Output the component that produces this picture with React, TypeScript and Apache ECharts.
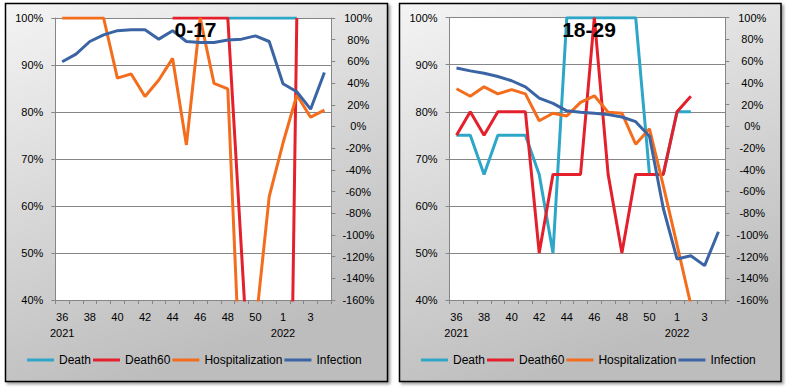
import React, { useEffect, useRef } from 'react';
import * as echarts from 'echarts';

const weeks = ['36', '37', '38', '39', '40', '41', '42', '43', '44', '45', '46', '47', '48', '49', '50', '51', '1', '2', '3', '4'];
const yearLabels: Record<number, string> = { 0: '2021', 16: '2022' };
const seriesNames = ['Death', 'Death60', 'Hospitalization', 'Infection'];
const seriesColors = ['#2ea6c8', '#e3202b', '#f36d1d', '#3b64a5'];
const panelTitles = ['0-17', '18-29'];

// Panel 0-17
const death017 = [null, null, null, null, null, null, null, null, null, null, null, null, 100, 100, 100, 100, 100, 100, null, null];
const death60017 = [null, null, null, null, null, null, null, null, 100, 100, 100, 100, 100, 50, 0, -60, -107, 100, null, null];
const hosp017 = [100, 100, 100, 100, 87.2, 88.1, 83.3, 86.8, 91.4, 73.0, 100, 86.1, 84.9, 16, 34, 62, 73.4, 83.6, 78.9, 80.4];
const infection017 = [90.7, 92.3, 95.0, 96.4, 97.3, 97.5, 97.5, 95.5, 97.3, 95.0, 94.8, 94.8, 95.3, 95.5, 96.2, 95.0, 86.0, 84.3, 80.6, 88.4];

// Panel 18-29
const death1829 = [75, 75, 66.7, 75, 75, 75, 66.7, 50, 100, 100, 100, 100, 100, 100, 66.7, 66.7, 80, 80, null, null];
const death601829 = [75, 80, 75, 80, 80, 80, 50, 66.7, 66.7, 66.7, 100, 66.7, 50, 66.7, 66.7, 66.7, 80, 83.3, null, null];
const hosp1829 = [84.9, 83.3, 85.3, 83.8, 84.7, 83.8, 78.1, 79.7, 79.1, 82.0, 83.4, 79.9, 79.7, 73.1, 76.4, 64.3, 51.7, 39, null, null];
const infection1829 = [89.3, 88.7, 88.2, 87.5, 86.6, 85.3, 82.9, 81.8, 80.2, 79.9, 79.7, 79.4, 78.9, 77.9, 74.8, 59.5, 48.7, 49.4, 47.3, 54.5];

const leftAxisRange = { min: 40, max: 100, interval: 10 };
const rightAxisRange = { min: -160, max: 100, interval: 20 };

const panelData = [
  [death017, death60017, hosp017, infection017],
  [death1829, death601829, hosp1829, infection1829],
];

const FONT = '"Liberation Sans", Arial, sans-serif';
const AXIS_COLOR = '#868686';

export default function App() {
  const ref = useRef<HTMLDivElement>(null);

  useEffect(() => {
    if (!ref.current) return;
    const chart = echarts.init(ref.current, undefined, { renderer: 'svg' });

    const grids = [
      { left: 55.3, top: 18, width: 276, height: 282 },
      { left: 449.6, top: 17.7, width: 275.7, height: 282.3 },
    ];
    const panels = [
      { x: 5.5, y: 3.5, w: 382, h: 378, titleX: 195.5, legendLeft: 27 },
      { x: 399.5, y: 3.5, w: 381.5, h: 378, titleX: 589, legendLeft: 421 },
    ];

    const xAxis: any[] = [];
    const yAxis: any[] = [];
    const series: any[] = [];
    const legend: any[] = [];
    const graphic: any[] = [];

    panels.forEach((p, i) => {
      graphic.push({
        type: 'rect',
        z: -10,
        silent: true,
        shape: { x: p.x, y: p.y, width: p.w, height: p.h },
        style: {
          fill: new echarts.graphic.LinearGradient(0, 0, 0.35, 1, [
            { offset: 0, color: '#f4f4f4' },
            { offset: 1, color: '#bdbdbd' },
          ]),
          stroke: '#000',
          lineWidth: 1.5,
          shadowBlur: 3,
          shadowOffsetX: 2,
          shadowOffsetY: 2,
          shadowColor: 'rgba(0,0,0,0.4)',
        },
      });
      graphic.push({
        type: 'text',
        z: 20,
        x: p.titleX,
        y: 29,
        style: {
          text: panelTitles[i],
          font: `bold 21px ${FONT}`,
          fill: '#000',
          align: 'center',
          verticalAlign: 'middle',
        },
      });

      xAxis.push({
        type: 'category',
        gridIndex: i,
        data: weeks,
        boundaryGap: true,
        axisLine: { show: true, onZero: false, lineStyle: { color: AXIS_COLOR, width: 1 } },
        axisTick: { show: true, interval: 0, length: 4, lineStyle: { color: AXIS_COLOR } },
        axisLabel: {
          interval: 1,
          margin: 9,
          fontSize: 11,
          lineHeight: 16,
          color: '#000',
          fontFamily: FONT,
          formatter: (v: string, idx: number) => (yearLabels[idx] ? `${v}\n${yearLabels[idx]}` : v),
        },
        splitLine: { show: false },
      });
      yAxis.push({
        type: 'value',
        gridIndex: i,
        position: 'left',
        ...leftAxisRange,
        axisLine: { show: true, lineStyle: { color: AXIS_COLOR } },
        axisTick: { show: true, length: 4, lineStyle: { color: AXIS_COLOR } },
        splitLine: { show: true, lineStyle: { color: AXIS_COLOR, width: 1 } },
        axisLabel: { margin: 12, fontSize: 11, color: '#000', fontFamily: FONT, formatter: (v: number) => `${v}%` },
      });
      yAxis.push({
        type: 'value',
        gridIndex: i,
        position: 'right',
        ...rightAxisRange,
        axisLine: { show: true, lineStyle: { color: AXIS_COLOR } },
        axisTick: { show: true, length: 4, lineStyle: { color: AXIS_COLOR } },
        splitLine: { show: false },
        axisLabel: { margin: 27, align: 'center', fontSize: 11, color: '#000', fontFamily: FONT, formatter: (v: number) => `${v}%` },
      });

      panelData[i].forEach((values, s) => {
        series.push({
          type: 'line',
          name: seriesNames[s],
          xAxisIndex: i,
          yAxisIndex: i * 2,
          data: values,
          showSymbol: false,
          symbol: 'none',
          connectNulls: false,
          clip: true,
          color: seriesColors[s],
          lineStyle: { width: 3, color: seriesColors[s] },
          z: 2 + s,
        });
      });

      legend.push({
        data: seriesNames,
        left: p.legendLeft,
        top: 354,
        padding: 0,
        icon: 'rect',
        itemWidth: 27,
        itemHeight: 3,
        itemGap: 2,
        selectedMode: false,
        textStyle: { fontSize: 12, color: '#000', fontFamily: FONT },
      });
    });

    chart.setOption({
      animation: false,
      backgroundColor: '#fff',
      grid: grids.map((g) => ({ ...g, show: true, backgroundColor: '#fff', borderWidth: 0, containLabel: false })),
      xAxis,
      yAxis,
      series,
      legend,
      graphic,
    });

    return () => chart.dispose();
  }, []);

  return (
    <div
      ref={ref}
      style={{ position: 'absolute', left: 0, top: 0, width: 786, height: 388 }}
    />
  );
}
